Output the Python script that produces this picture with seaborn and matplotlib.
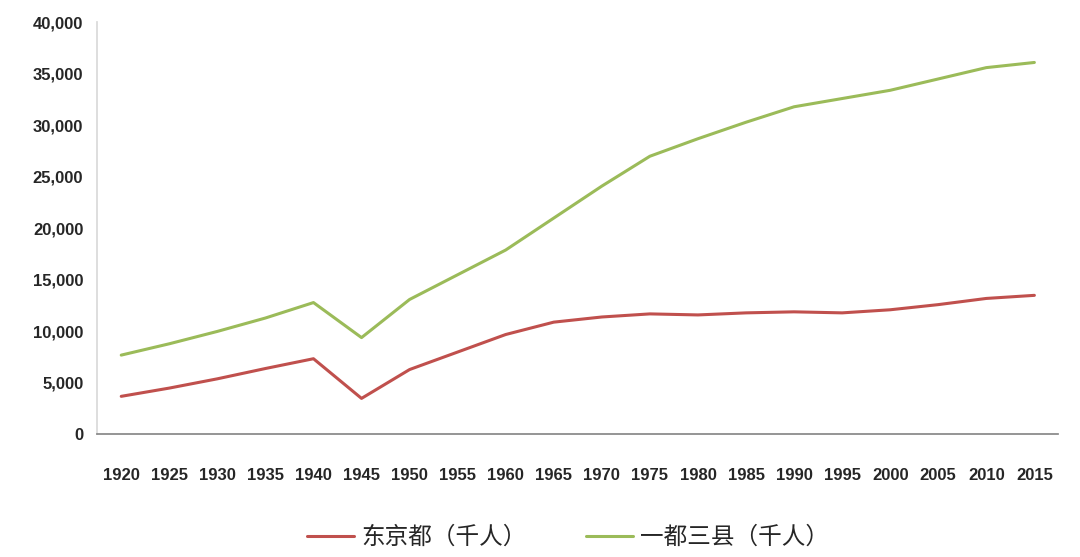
import matplotlib.pyplot as plt
import seaborn as sns
import pandas as pd
from matplotlib.ticker import FuncFormatter

years = list(range(1920, 2020, 5))
tokyo = [3700, 4500, 5400, 6400, 7350, 3500, 6300, 8000, 9700, 10900,
         11400, 11700, 11600, 11800, 11900, 11800, 12100, 12600, 13200, 13500]
metro = [7700, 8800, 10000, 11300, 12800, 9400, 13100, 15500, 17900, 21000,
         24100, 27000, 28700, 30300, 31800, 32600, 33400, 34500, 35600, 36100]
labels = ["东京都（千人）", "一都三县（千人）"]

sns.set_theme(style="white")
plt.rcParams["font.family"] = ["Noto Sans CJK SC", "DejaVu Sans"]

df = pd.DataFrame({"x": list(range(len(years))) * 2,
                   "v": tokyo + metro,
                   "s": [labels[0]] * len(years) + [labels[1]] * len(years)})

fig = plt.figure(figsize=(10.8, 5.57), dpi=100)
ax = fig.add_axes([0.09, 0.22, 0.89, 0.74])
sns.lineplot(data=df, x="x", y="v", hue="s", palette=["#C0504D", "#9BBB59"],
             linewidth=2.2, ax=ax)
ax.set_xlim(-0.5, len(years) - 0.5)
ax.set_ylim(0, 40000)
ax.set_yticks(range(0, 40001, 5000))
ax.yaxis.set_major_formatter(FuncFormatter(lambda v, p: f"{int(v):,}"))
ax.set_xticks(range(len(years)))
ax.set_xticklabels([str(y) for y in years])
for t in ax.get_xticklabels() + ax.get_yticklabels():
    t.set_fontfamily("Liberation Sans")
    t.set_fontweight("bold")
    t.set_fontsize(12)
ax.tick_params(axis="x", pad=24, length=0)
ax.tick_params(axis="y", length=0, pad=10)
ax.set_xlabel("")
ax.set_ylabel("")
for s in ["top", "right"]:
    ax.spines[s].set_visible(False)
ax.spines["left"].set_color("#d9d9d9")
ax.spines["bottom"].set_color("#888888")
ax.legend(title=None, loc="upper center", bbox_to_anchor=(0.49, -0.17), ncol=2,
          frameon=False, fontsize=17, handlelength=2.0, handletextpad=0.3,
          columnspacing=2.5)
fig.savefig("out.png", dpi=100)
